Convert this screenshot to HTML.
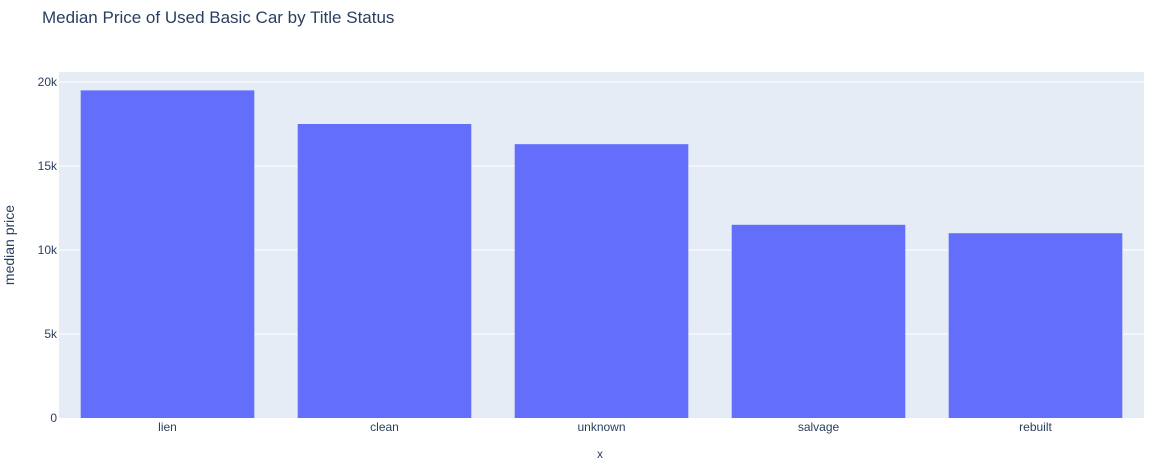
<!DOCTYPE html>
<html><head><meta charset="utf-8"><style>
body{margin:0;background:#fff;font-family:"Liberation Sans",sans-serif;}
</style></head><body>
<svg width="1154" height="458" xmlns="http://www.w3.org/2000/svg">
<text x="42" y="23" font-size="17" fill="#2a3f5f">Median Price of Used Basic Car by Title Status</text>
<rect x="59" y="72" width="1085" height="346" fill="#e5ecf6"/>
<g id="grid"></g>
<g id="bars"></g>
<g id="xt"></g>
<g id="yt"></g>
<text x="600" y="458" font-size="12" fill="#2a3f5f" text-anchor="middle">x</text>
<text transform="translate(14,245) rotate(-90)" font-size="14" fill="#2a3f5f" text-anchor="middle">median price</text>
</svg>
<script>
const categories=["lien","clean","unknown","salvage","rebuilt"];
const values=[19500,17500,16300,11500,11000];
const yTicks=[0,5000,10000,15000,20000];
const yTickLabels=["0","5k","10k","15k","20k"];
const NS="http://www.w3.org/2000/svg";
const x0=59,pw=1085,yBase=418,pxPer=84/5000;
const band=pw/categories.length;
function y(v){return yBase-v*pxPer;}
function mk(t,a,p){const e=document.createElementNS(NS,t);for(const k in a)e.setAttribute(k,a[k]);document.getElementById(p).appendChild(e);return e;}
yTicks.forEach((t,i)=>{
 if(t>0){const l=mk("line",{x1:x0,x2:x0+pw,y1:y(t),y2:y(t),stroke:"#fff","stroke-width":1},"grid");
 
 }
 const tx=mk("text",{x:57,y:y(t)+4,"font-size":12,fill:"#2a3f5f","text-anchor":"end"},"yt");
 tx.textContent=yTickLabels[i];
 
 
});
categories.forEach((c,i)=>{
 const bx=x0+band*i+band*0.1;
 const r=mk("rect",{x:bx,y:y(values[i]),width:band*0.8,height:yBase-y(values[i]),fill:"#636efa"},"bars");
 
 
 const tx=mk("text",{x:x0+band*(i+0.5),y:431,"font-size":12,fill:"#2a3f5f","text-anchor":"middle"},"xt");
 tx.textContent=c;
 
 
});
</script>
</body></html>
